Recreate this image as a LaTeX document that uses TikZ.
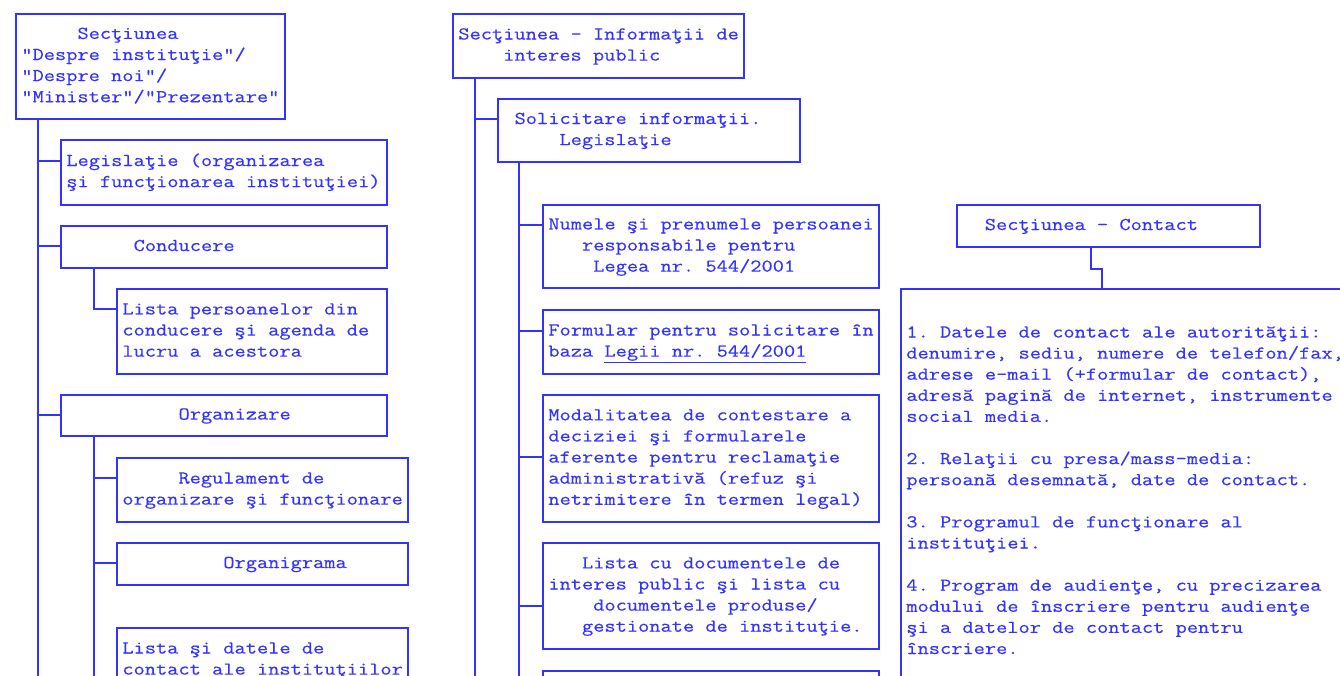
\documentclass[tikz,border=0pt]{standalone}
\usepackage{fontspec}
\setmonofont[FakeStretch=1.2,FakeBold=0.4]{Latin Modern Mono}
\definecolor{ink}{RGB}{51,51,255}
% one character cell is 11.22pt wide: calibrate the size to it
\newlength\cw \setlength\cw{11.22pt}
\setbox0\hbox{\ttfamily\fontsize{19}{21}\selectfont 0000000000}
\edef\fsz{\the\dimexpr 19pt*\dimexpr10\cw\relax/\wd0\relax}
\newcommand\boxfont{\ttfamily\fontsize{\fsz}{21.1}\selectfont}
\newcommand\ind[1]{\hspace*{#1\cw}}
\ExplSyntaxOn
\tl_new:N \l_rs_row_tl
\NewDocumentCommand \sprow { m }
  {
    \tl_set:Nn \l_rs_row_tl { #1 }
    \tl_replace_all:Nnn \l_rs_row_tl { ~ } { \hspace*{\cw} }
    \mbox { \tl_use:N \l_rs_row_tl }
  }
\ExplSyntaxOff
\newcommand\mrow[1]{\sprow{\strut#1}}
\tikzset{
  box/.style={draw=ink, line width=1.7pt, text=ink, font=\boxfont,
    align=left, anchor=north west, inner xsep=5.5pt, inner ysep=2pt},
  conn/.style={draw=ink, line width=1.7pt},
}
\begin{document}
\begin{tikzpicture}[x=1pt,y=-1pt]
\useasboundingbox (0,0) rectangle (1340,675);
\clip (0,0) rectangle (1340,675);

% left column
\node[box, text width=258pt, minimum height=105pt] (b1) at (15,13)
  {\mrow{\ind{5}Secţiunea}\\\mrow{"Despre instituţie"/}\\\mrow{"Despre noi"/}\\\mrow{"Minister"/"Prezentare"}};
\node[box, text width=315pt, minimum height=65pt] (b2) at (60,139)
  {\mrow{Legislaţie (organizarea}\\\mrow{şi funcţionarea instituţiei)}};
\node[box, text width=315pt, minimum height=42pt] (b3) at (60,225)
  {\mrow{\ind{6}Conducere}};
\node[box, text width=259pt, minimum height=85pt] (b4) at (116,288)
  {\mrow{Lista persoanelor din}\\\mrow{conducere şi agenda de}\\\mrow{lucru a acestora}};
\node[box, text width=315pt, minimum height=41pt] (b5) at (60,394)
  {\mrow{\ind{10}Organizare}};
\node[box, text width=280pt, minimum height=64pt] (b6) at (116,457)
  {\mrow{\ind{5}Regulament de}\\\mrow{organizare şi funcţionare}};
\node[box, text width=280pt, minimum height=42pt] (b7) at (116,542)
  {\mrow{\ind{9}Organigrama}};
\node[box, text width=280pt, inner ysep=10.9pt] (b8) at (116,627)
  {\mrow{Lista şi datele de}\\\mrow{contact ale instituţiilor}};

% middle column
\node[box, text width=280pt, minimum height=64pt] (b9) at (452,13)
  {\mrow{Secţiunea - Informaţii de}\\\mrow{\ind{4}interes public}};
\node[box, text width=291pt, minimum height=63pt] (b10) at (497,98)
  {\mrow{\ind{1}Solicitare informaţii.}\\\mrow{\ind{5}Legislaţie}};
\node[box, text width=325pt, minimum height=83pt] (b11) at (542,204)
  {\mrow{Numele şi prenumele persoanei}\\\mrow{\ind{3}responsabile pentru}\\\mrow{\ind{4}Legea nr. 544/2001}};
\node[box, text width=325pt, minimum height=64pt] (b12) at (542,309)
  {\mrow{Formular pentru solicitare în}\\\mrow{baza \underline{\sprow{Legii nr. 544/2001}}}};
\node[box, text width=325pt, minimum height=127pt] (b13) at (542,394)
  {\mrow{Modalitatea de contestare a}\\\mrow{deciziei şi formularele}\\\mrow{aferente pentru reclamaţie}\\\mrow{administrativă (refuz şi}\\\mrow{netrimitere în termen legal)}};
\node[box, text width=325pt, minimum height=106pt] (b14) at (542,542)
  {\mrow{\ind{3}Lista cu documentele de}\\\mrow{interes public şi lista cu}\\\mrow{\ind{4}documentele produse/}\\\mrow{\ind{3}gestionate de instituţie.}};
\node[box, text width=325pt, minimum height=40pt] (b15) at (542,670) {};

% right column
\node[box, text width=292pt, minimum height=42pt] (b16) at (956,204)
  {\mrow{\ind{2}Secţiunea - Contact}};
\node[box, text width=449pt, inner ysep=33.9pt] (b17) at (900,288)
  {\mrow{1. Datele de contact ale autorităţii:}\\
   \mrow{denumire, sediu, numere de telefon/fax,}\\
   \mrow{adrese e-mail (+formular de contact),}\\
   \mrow{adresă pagină de internet, instrumente}\\
   \mrow{social media.}\\
   \mrow{}\\
   \mrow{2. Relaţii cu presa/mass-media:}\\
   \mrow{persoană desemnată, date de contact.}\\
   \mrow{}\\
   \mrow{3. Programul de funcţionare al}\\
   \mrow{instituţiei.}\\
   \mrow{}\\
   \mrow{4. Program de audienţe, cu precizarea}\\
   \mrow{modului de înscriere pentru audienţe}\\
   \mrow{şi a datelor de contact pentru}\\
   \mrow{înscriere.}};

% trunks
\coordinate (t1) at (38,690);
\coordinate (t2) at (94,690);
\coordinate (t3) at (475,690);
\coordinate (t4) at (519,690);
\draw[conn] (b1.south -| t1) -- (t1);
\draw[conn] (b5.south -| t2) -- (t2);
\draw[conn] (b9.south -| t3) -- (t3);
\draw[conn] (b10.south -| t4) -- (t4);

% branches
\draw[conn] ([yshift=-22pt]b2.north west) coordinate (k2) -- (k2 -| t1);
\draw[conn] ([yshift=-21pt]b3.north west) coordinate (k3) -- (k3 -| t1);
\draw[conn] ([yshift=-21pt]b5.north west) coordinate (k5) -- (k5 -| t1);
\draw[conn] (b3.south -| t2) |- ([yshift=-21pt]b4.north west);
\draw[conn] ([yshift=-21pt]b6.north west) coordinate (k6) -- (k6 -| t2);
\draw[conn] ([yshift=-21pt]b7.north west) coordinate (k7) -- (k7 -| t2);
\draw[conn] ([yshift=-21pt]b10.north west) coordinate (k10) -- (k10 -| t3);
\draw[conn] ([yshift=-21pt]b11.north west) coordinate (k11) -- (k11 -| t4);
\draw[conn] ([yshift=-22pt]b12.north west) coordinate (k12) -- (k12 -| t4);
\draw[conn] ([yshift=-63pt]b13.north west) coordinate (k13) -- (k13 -| t4);
\draw[conn] ([yshift=-64pt]b14.north west) coordinate (k14) -- (k14 -| t4);

% contact connector
\draw[conn] ([xshift=135pt]b16.south west) -- ++(0,21) -| ([xshift=202pt]b17.north west);
\end{tikzpicture}
\end{document}
